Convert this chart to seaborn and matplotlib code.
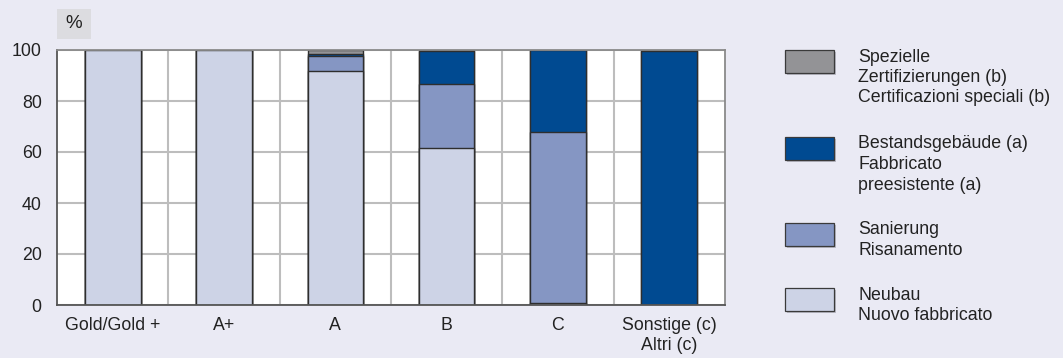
import matplotlib
matplotlib.use("Agg")
import matplotlib.pyplot as plt
import numpy as np
import pandas as pd
import seaborn as sns
from matplotlib.patches import Rectangle

CATEGORIES = ["Gold/Gold +", "A+", "A", "B", "C", "Sonstige (c)\nAltri (c)"]
NEUBAU = [100.0, 100.0, 91.7, 61.4, 0.6, 0.0]
SANIERUNG = [0.0, 0.0, 5.8, 25.3, 67.1, 0.0]
BESTAND = [0.0, 0.0, 0.8, 12.9, 32.3, 99.6]
SPEZIELLE = [0.0, 0.0, 1.7, 0.4, 0.0, 0.4]

SERIES_LABELS = [
    ["Spezielle", "Zertifizierungen (b)", "Certificazioni speciali (b)"],
    ["Bestandsgebäude (a)", "Fabbricato", "preesistente (a)"],
    ["Sanierung", "Risanamento"],
    ["Neubau", "Nuovo fabbricato"],
]
COLORS = ["#939396", "#004a91", "#8596c3", "#cdd3e6"]

BG = "#eaeaf4"
EDGE = "#2e2e2e"
GRID = "#bdbdbd"

sns.set_style("white")
plt.rcParams["font.family"] = ["Liberation Sans", "DejaVu Sans"]

df = pd.DataFrame({
    "cat": CATEGORIES,
    "neubau": NEUBAU,
    "sanierung": SANIERUNG,
    "bestand": BESTAND,
    "spezielle": SPEZIELLE,
})
# cumulative totals, drawn largest first so each layer sits on the one below
df["c4"] = df[["neubau", "sanierung", "bestand", "spezielle"]].sum(axis=1)
df["c3"] = df[["neubau", "sanierung", "bestand"]].sum(axis=1)
df["c2"] = df[["neubau", "sanierung"]].sum(axis=1)
df["c1"] = df["neubau"]

fig = plt.figure(figsize=(10.63, 3.58), dpi=100, facecolor=BG)
ax = fig.add_axes([57 / 1063, 1 - 305 / 358, (725 - 57) / 1063, (305 - 50) / 358])
ax.set_facecolor("white")

for col, color in zip(["c4", "c3", "c2", "c1"], COLORS):
    sns.barplot(
        data=df, x="cat", y=col, order=CATEGORIES, ax=ax, color=color,
        saturation=1, width=0.5, edgecolor=EDGE, linewidth=1.0, errorbar=None,
    )

ax.set_xlim(-0.5, len(CATEGORIES) - 0.5)
ax.set_ylim(0, 100)
ax.set_yticks([0, 20, 40, 60, 80, 100])
ax.set_xticks(np.arange(0.5, len(CATEGORIES) - 0.5, 1.0), minor=True)
ax.set_axisbelow(True)
ax.grid(axis="y", which="major", color=GRID, linewidth=1.5)
ax.grid(axis="x", which="minor", color=GRID, linewidth=1.5)
ax.set_xlabel("")
ax.set_ylabel("")
ax.tick_params(axis="both", which="both", length=0, labelsize=12.8, colors="#222222")
ax.tick_params(axis="x", pad=9)
ax.tick_params(axis="y", pad=11)

for side in ["left", "bottom"]:
    ax.spines[side].set_color("#555555")
    ax.spines[side].set_linewidth(1.3)
for side in ["top", "right"]:
    ax.spines[side].set_color("#8a8a8a")
    ax.spines[side].set_linewidth(1.3)

# "%" unit box
fig.add_artist(Rectangle((57 / 1063, 1 - 39 / 358), 34 / 1063, 30 / 358,
                         transform=fig.transFigure, facecolor="#dcdce0", edgecolor="none"))
fig.text(74 / 1063, 1 - 24 / 358, "%", ha="center", va="center", fontsize=13.5, color="#222222")

# legend
patch_tops = [50, 137, 223, 288]
line_gap = 20.5
for top, color, lines in zip(patch_tops, COLORS, SERIES_LABELS):
    fig.add_artist(Rectangle((787 / 1063, 1 - (top + 25) / 358), 49 / 1063, 23 / 358,
                             transform=fig.transFigure, facecolor="#9a9aa4",
                             edgecolor="none", alpha=0.6))
    fig.add_artist(Rectangle((785 / 1063, 1 - (top + 23) / 358), 49 / 1063, 23 / 358,
                             transform=fig.transFigure, facecolor=color,
                             edgecolor="#3a3a3a", linewidth=0.9))
    for i, line in enumerate(lines):
        y = top + 7 + i * line_gap
        fig.text(858 / 1063, 1 - y / 358, line, ha="left", va="center",
                 fontsize=12.8, color="#222222")

fig.savefig("out.png", dpi=100, facecolor=BG)
